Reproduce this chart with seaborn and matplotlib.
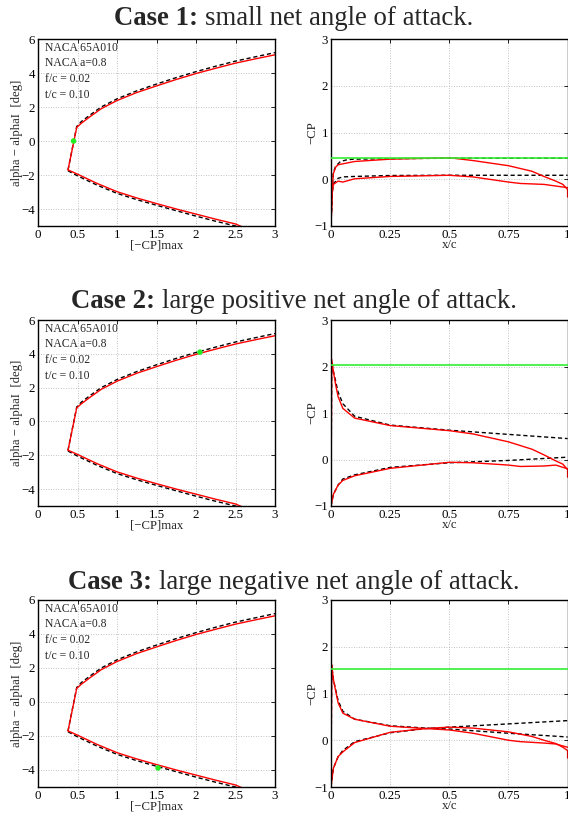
import matplotlib
matplotlib.use("Agg")
import matplotlib.pyplot as plt
import seaborn as sns
import pandas as pd

# ---------------- data ----------------
titles_bold = ["Case 1:", "Case 2:", "Case 3:"]
titles_rest = ["small net angle of attack.",
               "large positive net angle of attack.",
               "large negative net angle of attack."]

# left panels: alpha - alphaI vs [-CP]max (same curves in all cases)
up_red_x = [0.38, 0.49, 0.55, 0.65, 0.8, 1.0, 1.25, 1.5, 1.75, 2.0, 2.25, 2.5, 2.75, 3.0]
up_red_y = [-1.7, 0.8, 1.05, 1.4, 1.9, 2.38, 2.85, 3.24, 3.62, 3.97, 4.28, 4.58, 4.83, 5.07]
up_blk_x = [0.38, 0.49, 0.55, 0.65, 0.8, 1.0, 1.25, 1.5, 1.75, 2.0, 2.25, 2.5, 2.75, 3.0]
up_blk_y = [-1.7, 0.85, 1.15, 1.5, 2.0, 2.48, 2.95, 3.35, 3.73, 4.08, 4.4, 4.7, 4.95, 5.2]
lo_red_x = [0.38, 0.5, 0.75, 1.0, 1.25, 1.5, 1.75, 2.0, 2.25, 2.5, 2.6]
lo_red_y = [-1.7, -1.95, -2.5, -2.98, -3.35, -3.68, -4.0, -4.3, -4.6, -4.88, -5.08]
lo_blk_x = [0.38, 0.5, 0.75, 1.0, 1.25, 1.5, 1.75, 2.0, 2.25, 2.5, 2.6]
lo_blk_y = [-1.75, -2.05, -2.6, -3.08, -3.45, -3.78, -4.1, -4.42, -4.72, -5.0, -5.2]
op_x = [0.45, 2.05, 1.52]
op_y = [0.0, 4.1, -3.88]
note = "NACA 65A010\nNACA a=0.8\nf/c = 0.02\nt/c = 0.10"

# right panels: -CP vs x/c
green_level = [0.45, 2.04, 1.52]

c1_red_a_x = [0.0, 0.005, 0.01, 0.02, 0.03, 0.1, 0.25, 0.5, 0.6, 0.75, 0.85, 0.9, 0.95, 0.98, 1.0, 1.0]
c1_red_a_y = [-1.0, -0.2, 0.12, 0.26, 0.31, 0.38, 0.43, 0.46, 0.4, 0.29, 0.17, 0.06, -0.04, -0.11, -0.22, -0.38]
c1_red_b_x = [0.0, 0.005, 0.01, 0.03, 0.05, 0.1, 0.25, 0.5, 0.6, 0.75, 0.8, 0.9, 1.0]
c1_red_b_y = [-1.0, -0.3, -0.11, -0.04, -0.06, 0.01, 0.06, 0.085, 0.05, -0.06, -0.09, -0.11, -0.18]
c1_blk_a_x = [0.0, 0.005, 0.01, 0.02, 0.04, 0.07, 0.1, 0.25, 0.5, 0.75, 1.0]
c1_blk_a_y = [-1.0, -0.2, 0.15, 0.28, 0.38, 0.42, 0.43, 0.44, 0.45, 0.45, 0.45]
c1_blk_b_x = [0.0, 0.005, 0.01, 0.03, 0.05, 0.1, 0.25, 0.5, 0.75, 1.0]
c1_blk_b_y = [-1.0, -0.3, -0.1, 0.02, 0.05, 0.06, 0.08, 0.085, 0.085, 0.085]

c2_red_a_x = [0.0, 0.003, 0.01, 0.02, 0.03, 0.05, 0.1, 0.25, 0.5, 0.6, 0.75, 0.85, 0.9, 0.95, 0.98, 1.0, 1.0]
c2_red_a_y = [-1.0, 2.15, 1.9, 1.6, 1.35, 1.1, 0.89, 0.73, 0.62, 0.55, 0.38, 0.22, 0.1, -0.03, -0.1, -0.22, -0.38]
c2_red_b_x = [0.0, 0.01, 0.03, 0.05, 0.1, 0.25, 0.5, 0.6, 0.75, 0.8, 0.9, 0.95, 1.0]
c2_red_b_y = [-1.0, -0.75, -0.55, -0.45, -0.35, -0.19, -0.06, -0.07, -0.12, -0.15, -0.14, -0.12, -0.2]
c2_blk_a_x = [0.0, 0.003, 0.01, 0.03, 0.05, 0.1, 0.25, 0.5, 0.75, 1.0]
c2_blk_a_y = [-1.0, 2.1, 1.9, 1.45, 1.2, 0.93, 0.74, 0.63, 0.54, 0.45]
c2_blk_b_x = [0.0, 0.01, 0.03, 0.05, 0.1, 0.25, 0.5, 0.75, 1.0]
c2_blk_b_y = [-1.0, -0.75, -0.55, -0.42, -0.33, -0.17, -0.07, -0.02, 0.05]

c3_red_a_x = [0.0, 0.003, 0.01, 0.03, 0.05, 0.1, 0.25, 0.4, 0.5, 0.6, 0.75, 0.8, 0.9, 0.95, 1.0]
c3_red_a_y = [-1.0, 1.62, 1.3, 0.8, 0.58, 0.45, 0.3, 0.25, 0.22, 0.15, 0.0, -0.03, -0.06, -0.08, -0.15]
c3_red_b_x = [0.0, 0.01, 0.03, 0.05, 0.1, 0.25, 0.4, 0.5, 0.6, 0.75, 0.85, 0.9, 0.95, 0.98, 1.0, 1.0]
c3_red_b_y = [-1.0, -0.6, -0.35, -0.25, -0.05, 0.17, 0.25, 0.28, 0.26, 0.18, 0.08, 0.0, -0.07, -0.15, -0.22, -0.38]
c3_blk_a_x = [0.0, 0.003, 0.01, 0.03, 0.05, 0.1, 0.25, 0.4, 0.5, 0.75, 1.0]
c3_blk_a_y = [-1.0, 1.6, 1.3, 0.85, 0.62, 0.45, 0.31, 0.26, 0.24, 0.15, 0.07]
c3_blk_b_x = [0.0, 0.01, 0.03, 0.05, 0.1, 0.25, 0.4, 0.5, 0.75, 1.0]
c3_blk_b_y = [-1.0, -0.6, -0.35, -0.22, -0.03, 0.16, 0.25, 0.28, 0.35, 0.42]

cp_cases = [
    dict(ra=(c1_red_a_x, c1_red_a_y), rb=(c1_red_b_x, c1_red_b_y),
         ba=(c1_blk_a_x, c1_blk_a_y), bb=(c1_blk_b_x, c1_blk_b_y)),
    dict(ra=(c2_red_a_x, c2_red_a_y), rb=(c2_red_b_x, c2_red_b_y),
         ba=(c2_blk_a_x, c2_blk_a_y), bb=(c2_blk_b_x, c2_blk_b_y)),
    dict(ra=(c3_red_a_x, c3_red_a_y), rb=(c3_red_b_x, c3_red_b_y),
         ba=(c3_blk_a_x, c3_blk_a_y), bb=(c3_blk_b_x, c3_blk_b_y)),
]

left_xticks = [0, 0.5, 1, 1.5, 2, 2.5, 3]
left_xticklabels = ["0", "0.5", "1", "1.5", "2", "2.5", "3"]
left_yticks = [-4, -2, 0, 2, 4, 6]
right_xticks = [0, 0.25, 0.5, 0.75, 1]
right_xticklabels = ["0", "0.25", "0.5", "0.75", "1"]
right_yticks = [-1, 0, 1, 2, 3]

# ---------------- style ----------------
sns.set_theme(style="white")
plt.rcParams["font.family"] = ["Liberation Serif", "DejaVu Serif"]
plt.rcParams["axes.unicode_minus"] = True

FS_TICK = 9.3
FS_LAB = 9.2
FS_NOTE = 8.4
FS_TITLE = 19.3

fig = plt.figure(figsize=(5.68, 8.19), dpi=100)
W, H = 568.0, 819.0

rows = [(39, 226), (320, 506), (600, 787)]
title_base = [25, 308, 589]


def add_ax(left, right, top, bottom):
    return fig.add_axes([left / W, 1 - bottom / H, (right - left) / W, (bottom - top) / H])


def style_ax(ax):
    ax.grid(True, color="#b0b0b0", linestyle=(0, (1, 2)), linewidth=0.6)
    for s in ax.spines.values():
        s.set_color("black")
        s.set_linewidth(1.0)
    ax.tick_params(direction="in", length=3, width=0.6, labelsize=FS_TICK,
                   top=True, right=True, colors="black", pad=2)


def line(ax, x, y, color, dashed=False):
    df = pd.DataFrame({"x": x, "y": y})
    if dashed:
        sns.lineplot(data=df, x="x", y="y", ax=ax, sort=False, color="black",
                     linewidth=1.0, linestyle=(0, (3, 2)), estimator=None)
    else:
        sns.lineplot(data=df, x="x", y="y", ax=ax, sort=False, color=color,
                     linewidth=1.0, estimator=None)


for i, (top, bottom) in enumerate(rows):
    # left panel
    axl = add_ax(38, 275, top, bottom)
    line(axl, up_blk_x, up_blk_y, "black", dashed=True)
    line(axl, lo_blk_x, lo_blk_y, "black", dashed=True)
    line(axl, up_red_x, up_red_y, "red")
    line(axl, lo_red_x, lo_red_y, "red")
    sns.scatterplot(x=[op_x[i]], y=[op_y[i]], ax=axl, color="#22ee22", s=16,
                    edgecolor="none", zorder=5)
    axl.set_xlim(0, 3)
    axl.set_ylim(-5, 6)
    axl.set_xticks(left_xticks)
    axl.set_xticklabels(left_xticklabels)
    axl.set_yticks(left_yticks)
    axl.set_yticklabels([str(v).replace("-", "\u2212") for v in left_yticks])
    axl.set_xlabel("[\u2212CP]max", fontsize=FS_LAB, labelpad=-1)
    axl.set_ylabel("alpha \u2212 alphaI  [deg]", fontsize=FS_LAB, labelpad=-1)
    axl.text(0.03, 0.985, note, transform=axl.transAxes, ha="left", va="top",
             fontsize=FS_NOTE, linespacing=1.4)
    style_ax(axl)

    # right panel
    axr = add_ax(331, 567.6, top, bottom)
    c = cp_cases[i]
    line(axr, *c["ba"], "black", dashed=True)
    line(axr, *c["bb"], "black", dashed=True)
    line(axr, *c["ra"], "red")
    line(axr, *c["rb"], "red")
    axr.axhline(green_level[i], color="#33ee33", linewidth=1.2, zorder=4)
    axr.set_xlim(0, 1)
    axr.set_ylim(-1, 3)
    axr.set_xticks(right_xticks)
    axr.set_xticklabels(right_xticklabels)
    axr.set_yticks(right_yticks)
    axr.set_yticklabels([str(v).replace("-", "\u2212") for v in right_yticks])
    axr.set_xlabel("x/c", fontsize=FS_LAB, labelpad=-1)
    axr.set_ylabel("\u2212CP", fontsize=FS_LAB, labelpad=-3)
    style_ax(axr)

# titles: bold part + normal part, centred together
fig.canvas.draw()
renderer = fig.canvas.get_renderer()
for i in range(3):
    yb = 1 - title_base[i] / H
    tb = fig.text(0, yb, titles_bold[i] + " ", fontsize=FS_TITLE, fontweight="bold", va="baseline")
    tr = fig.text(0, yb, titles_rest[i], fontsize=FS_TITLE, va="baseline")
    wb = tb.get_window_extent(renderer).width
    wr = tr.get_window_extent(renderer).width
    total = wb + wr
    cx = 294.0
    x0 = cx - total / 2
    tb.set_x(x0 / W)
    tr.set_x((x0 + wb) / W)

fig.savefig("out.png", dpi=100)
